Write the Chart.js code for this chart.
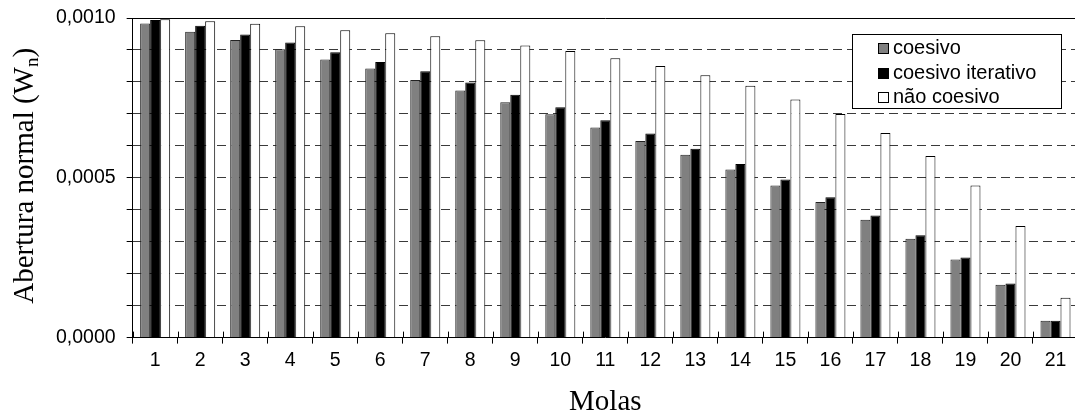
<!DOCTYPE html>
<html>
<head>
<meta charset="utf-8">
<script src="https://cdn.jsdelivr.net/npm/chart.js@4.4.1/dist/chart.umd.min.js"></script>
<style>
  html, body { margin: 0; padding: 0; background: #fff; overflow: hidden; }
  #wrap { position: relative; width: 1078px; height: 417px; }
</style>
</head>
<body>
<div id="wrap"><canvas id="chart"></canvas></div>
<script>
// values (abertura normal per mola)
const molas = ['1','2','3','4','5','6','7','8','9','10','11','12','13','14','15','16','17','18','19','20','21'];
const coesivo = [0.000983, 0.000957, 0.000931, 0.000902, 0.000870, 0.000842, 0.000806, 0.000773, 0.000736, 0.000699, 0.000657,
                 0.000615, 0.000572, 0.000526, 0.000476, 0.000424, 0.000369, 0.000309, 0.000244, 0.000165, 0.000053];
const coesivoIterativo = [0.000994, 0.000976, 0.000948, 0.000923, 0.000893, 0.000862, 0.000833, 0.000798, 0.000760, 0.000721, 0.000680,
                          0.000639, 0.000591, 0.000543, 0.000495, 0.000439, 0.000382, 0.000320, 0.000251, 0.000169, 0.000053];
const naoCoesivo = [0.000996, 0.000990, 0.000982, 0.000974, 0.000962, 0.000952, 0.000943, 0.000930, 0.000914, 0.000897, 0.000874,
                    0.000850, 0.000821, 0.000788, 0.000745, 0.000700, 0.000640, 0.000568, 0.000476, 0.000349, 0.000125];
const seriesNames = ['coesivo', 'coesivo iterativo', 'não coesivo'];
const yMin = 0, yMax = 0.001, yStep = 0.0001;

const sans = '"Liberation Sans", Arial, sans-serif';
const serif = '"Liberation Serif", "Times New Roman", serif';

// top frame line, x ticks crossing the axis, y title with subscript, legend box
const extras = {
  id: 'extras',
  beforeDatasetsDraw(chart) {
    const { ctx, chartArea: a } = chart;
    ctx.save();
    ctx.strokeStyle = '#000';
    ctx.lineWidth = 1;
    ctx.beginPath();
    ctx.moveTo(a.left, Math.round(a.top) + 0.5);
    ctx.lineTo(a.right, Math.round(a.top) + 0.5);
    ctx.stroke();
    ctx.restore();
  },
  afterDatasetsDraw(chart) {
    const { ctx, chartArea: a, scales } = chart;
    const x = scales.x;
    ctx.save();
    ctx.strokeStyle = '#000';
    ctx.lineWidth = 1;
    const half = (x.getPixelForValue(1) - x.getPixelForValue(0)) / 2;
    ctx.beginPath();
    for (let i = 0; i <= molas.length; i++) {
      const px = Math.round(x.getPixelForValue(i) - half) + 0.5;
      ctx.moveTo(px, a.bottom - 6);
      ctx.lineTo(px, a.bottom);
    }
    ctx.stroke();

    // legend
    const lx = Math.round(a.right - 226), ly = Math.round(a.top + 16), lw = 209, lh = 74;
    ctx.fillStyle = '#fff';
    ctx.fillRect(lx, ly, lw, lh);
    ctx.strokeRect(lx + 0.5, ly + 0.5, lw, lh);
    ctx.font = '20px ' + sans;
    ctx.textBaseline = 'middle';
    chart.data.datasets.forEach((ds, i) => {
      const cy = Math.round(ly + 15 + i * 24.5);
      ctx.fillStyle = ds.backgroundColor;
      ctx.fillRect(lx + 26.5, cy - 5.5, 10, 10);
      ctx.strokeStyle = '#000';
      ctx.strokeRect(lx + 26.5, cy - 5.5, 10, 10);
      ctx.fillStyle = '#000';
      ctx.fillText(ds.label, lx + 41, cy - 1);
    });

    // y axis title with subscript n
    ctx.translate(33, (a.top + a.bottom) / 2 - 2);
    ctx.rotate(-Math.PI / 2);
    ctx.textBaseline = 'alphabetic';
    ctx.textAlign = 'left';
    const big = '29px ' + serif, small = '19px ' + serif;
    const p1 = 'Abertura normal (W', p2 = 'n', p3 = ')';
    ctx.font = big; const w1 = ctx.measureText(p1).width, w3 = ctx.measureText(p3).width;
    ctx.font = small; const w2 = ctx.measureText(p2).width;
    let tx = -(w1 + w2 + w3) / 2;
    ctx.fillStyle = '#000';
    ctx.font = big; ctx.fillText(p1, tx, 0); tx += w1;
    ctx.font = small; ctx.fillText(p2, tx, 5); tx += w2;
    ctx.font = big; ctx.fillText(p3, tx, 0);
    ctx.restore();
  }
};

new Chart(document.getElementById('chart'), {
  type: 'bar',
  data: {
    labels: molas,
    datasets: [
      { label: seriesNames[0], data: coesivo, backgroundColor: '#808080', borderColor: '#222', borderWidth: 1 },
      { label: seriesNames[1], data: coesivoIterativo, backgroundColor: '#000000', borderColor: '#000', borderWidth: 1 },
      { label: seriesNames[2], data: naoCoesivo, backgroundColor: '#ffffff', borderColor: '#000', borderWidth: 1 }
    ]
  },
  options: {
    responsive: true,
    maintainAspectRatio: false,
    animation: false,
    datasets: { bar: { categoryPercentage: 0.667, barPercentage: 1.0 } },
    layout: { padding: { left: 45, top: 18, right: 0, bottom: 0 } },
    plugins: { legend: { display: false }, tooltip: { enabled: false } },
    scales: {
      x: {
        offset: true,
        grid: { display: true, drawOnChartArea: false, drawTicks: true, tickLength: 6, tickColor: '#000', offset: true },
        border: { display: true, color: '#000', width: 1 },
        ticks: { color: '#000', font: { family: sans, size: 19.5 }, padding: 5, maxRotation: 0, autoSkip: false },
        title: { display: true, text: 'Molas', color: '#000', font: { family: serif, size: 29, lineHeight: 1 }, padding: { top: 11, bottom: 0 } }
      },
      y: {
        min: yMin,
        max: yMax,
        afterFit: (s) => { s.paddingTop = 0; s.paddingBottom = 0; },
        grid: {
          color: (c) => (c.index === 0 || c.index === 10) ? 'rgba(0,0,0,0)' : '#3a3a3a',
          lineWidth: 1,
          tickLength: 6,
          tickColor: '#000',
          tickWidth: 1
        },
        border: { display: true, color: '#000', width: 1, dash: [9, 5] },
        ticks: {
          stepSize: yStep,
          color: '#000',
          font: { family: sans, size: 19.5 },
          padding: 11,
          callback: (v, i) => (i % 5 === 0) ? v.toFixed(4).replace('.', ',') : ''
        }
      }
    }
  },
  plugins: [extras]
});
</script>
</body>
</html>
